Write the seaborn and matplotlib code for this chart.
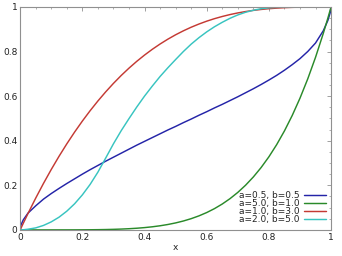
import matplotlib
matplotlib.use("Agg")
import matplotlib.pyplot as plt
import seaborn as sns
import pandas as pd
from matplotlib.ticker import MultipleLocator

x = [0, 0.0025, 0.01, 0.025, 0.05, 0.075, 0.1, 0.125, 0.15, 0.175, 0.2, 0.225, 0.25,
     0.275, 0.3, 0.325, 0.35, 0.375, 0.4, 0.425, 0.45, 0.475, 0.5, 0.525, 0.55, 0.575,
     0.6, 0.625, 0.65, 0.675, 0.7, 0.725, 0.75, 0.775, 0.8, 0.825, 0.85, 0.875, 0.9,
     0.925, 0.95, 0.975, 0.99, 0.9975, 1]

cdf_a05_b05 = [0, 0.022, 0.045, 0.075, 0.108, 0.138, 0.163, 0.186, 0.208, 0.229,
               0.250, 0.270, 0.289, 0.308, 0.326, 0.344, 0.362, 0.380, 0.397, 0.414,
               0.431, 0.448, 0.464, 0.481, 0.497, 0.514, 0.530, 0.547, 0.563, 0.580,
               0.597, 0.615, 0.633, 0.652, 0.672, 0.693, 0.716, 0.741, 0.768, 0.800,
               0.838, 0.893, 0.940, 0.975, 1]
cdf_a5_b1 = [0, 0, 0, 0, 0.0000003, 0.0000024, 0.00001, 0.00003, 0.000076, 0.000164,
             0.00032, 0.000577, 0.000977, 0.00157, 0.00243, 0.00363, 0.00525, 0.00742,
             0.01024, 0.01387, 0.01845, 0.02418, 0.03125, 0.03988, 0.05033, 0.06286,
             0.07776, 0.09537, 0.11603, 0.14013, 0.16807, 0.20031, 0.23730, 0.27958,
             0.32768, 0.38218, 0.44371, 0.51291, 0.59049, 0.67719, 0.77378, 0.88110,
             0.95099, 0.98756, 1]
cdf_a1_b3 = [0, 0.0075, 0.0297, 0.0731, 0.1426, 0.2085, 0.2710, 0.3301, 0.3859, 0.4385,
             0.4880, 0.5345, 0.5781, 0.6189, 0.6570, 0.6925, 0.7254, 0.7559, 0.7840,
             0.8099, 0.8336, 0.8553, 0.8750, 0.8928, 0.9089, 0.9232, 0.9360, 0.9473,
             0.9571, 0.9657, 0.9730, 0.9792, 0.9844, 0.9886, 0.9920, 0.9946, 0.9966,
             0.9980, 0.9990, 0.9996, 0.9999, 1.0, 1.0, 1.0, 1]
cdf_a2_b5 = [0, 0, 0.0005, 0.003, 0.009, 0.020, 0.036, 0.057, 0.084, 0.117,
             0.157, 0.204, 0.259, 0.322, 0.386, 0.445, 0.499, 0.551, 0.600, 0.645,
             0.688, 0.727, 0.764, 0.800, 0.833, 0.862, 0.888, 0.911, 0.931, 0.949,
             0.964, 0.976, 0.985, 0.992, 0.996, 0.998, 0.999, 1.0, 1.0, 1.0,
             1.0, 1.0, 1.0, 1.0, 1]

labels = ["a=0.5, b=0.5", "a=5.0, b=1.0", "a=1.0, b=3.0", "a=2.0, b=5.0"]
colors = ["#2424a8", "#2a8a2a", "#c43a34", "#38c4c0"]
x_ticks = [0, 0.2, 0.4, 0.6, 0.8, 1]
x_tick_labels = ["0", "0.2", "0.4", "0.6", "0.8", "1"]
y_ticks = [0, 0.2, 0.4, 0.6, 0.8, 1]
y_tick_labels = ["0", "0.2", "0.4", "0.6", "0.8", "1"]

frames = []
for lab, ys in zip(labels, [cdf_a05_b05, cdf_a5_b1, cdf_a1_b3, cdf_a2_b5]):
    frames.append(pd.DataFrame({"x": x, "y": ys, "series": lab}))
df = pd.concat(frames, ignore_index=True)

sns.set_style("white")
plt.rcParams["font.family"] = ["DejaVu Sans"]

fig = plt.figure(figsize=(3.42, 2.56), dpi=100)
ax = fig.add_axes([0.059, 0.102, 0.909, 0.871])
sns.lineplot(data=df, x="x", y="y", hue="series", palette=colors, hue_order=labels,
             linewidth=1.05, ax=ax, legend=True, sort=False, estimator=None)

ax.set_xlim(0, 1)
ax.set_ylim(0, 1)
ax.set_xticks(x_ticks)
ax.set_xticklabels(x_tick_labels)
ax.set_yticks(y_ticks)
ax.set_yticklabels(y_tick_labels)
ax.xaxis.set_minor_locator(MultipleLocator(0.05))
ax.yaxis.set_minor_locator(MultipleLocator(0.05))
ax.tick_params(which="both", direction="in", top=True, right=True, colors="#909090",
               labelcolor="#222222", labelsize=6.5, pad=2)
ax.tick_params(which="major", length=3, width=0.6)
ax.tick_params(which="minor", length=1.5, width=0.5)
for s in ax.spines.values():
    s.set_color("#909090")
    s.set_linewidth(0.8)
ax.set_xlabel("x", fontsize=6.5, color="#222222", labelpad=1)
ax.set_ylabel("")

leg = ax.legend(loc="lower right", frameon=False, fontsize=6.5, handlelength=2.4,
                handletextpad=0.5, labelspacing=-0.1, markerfirst=False,
                borderaxespad=0.2)

fig.savefig("out.png", dpi=100)
